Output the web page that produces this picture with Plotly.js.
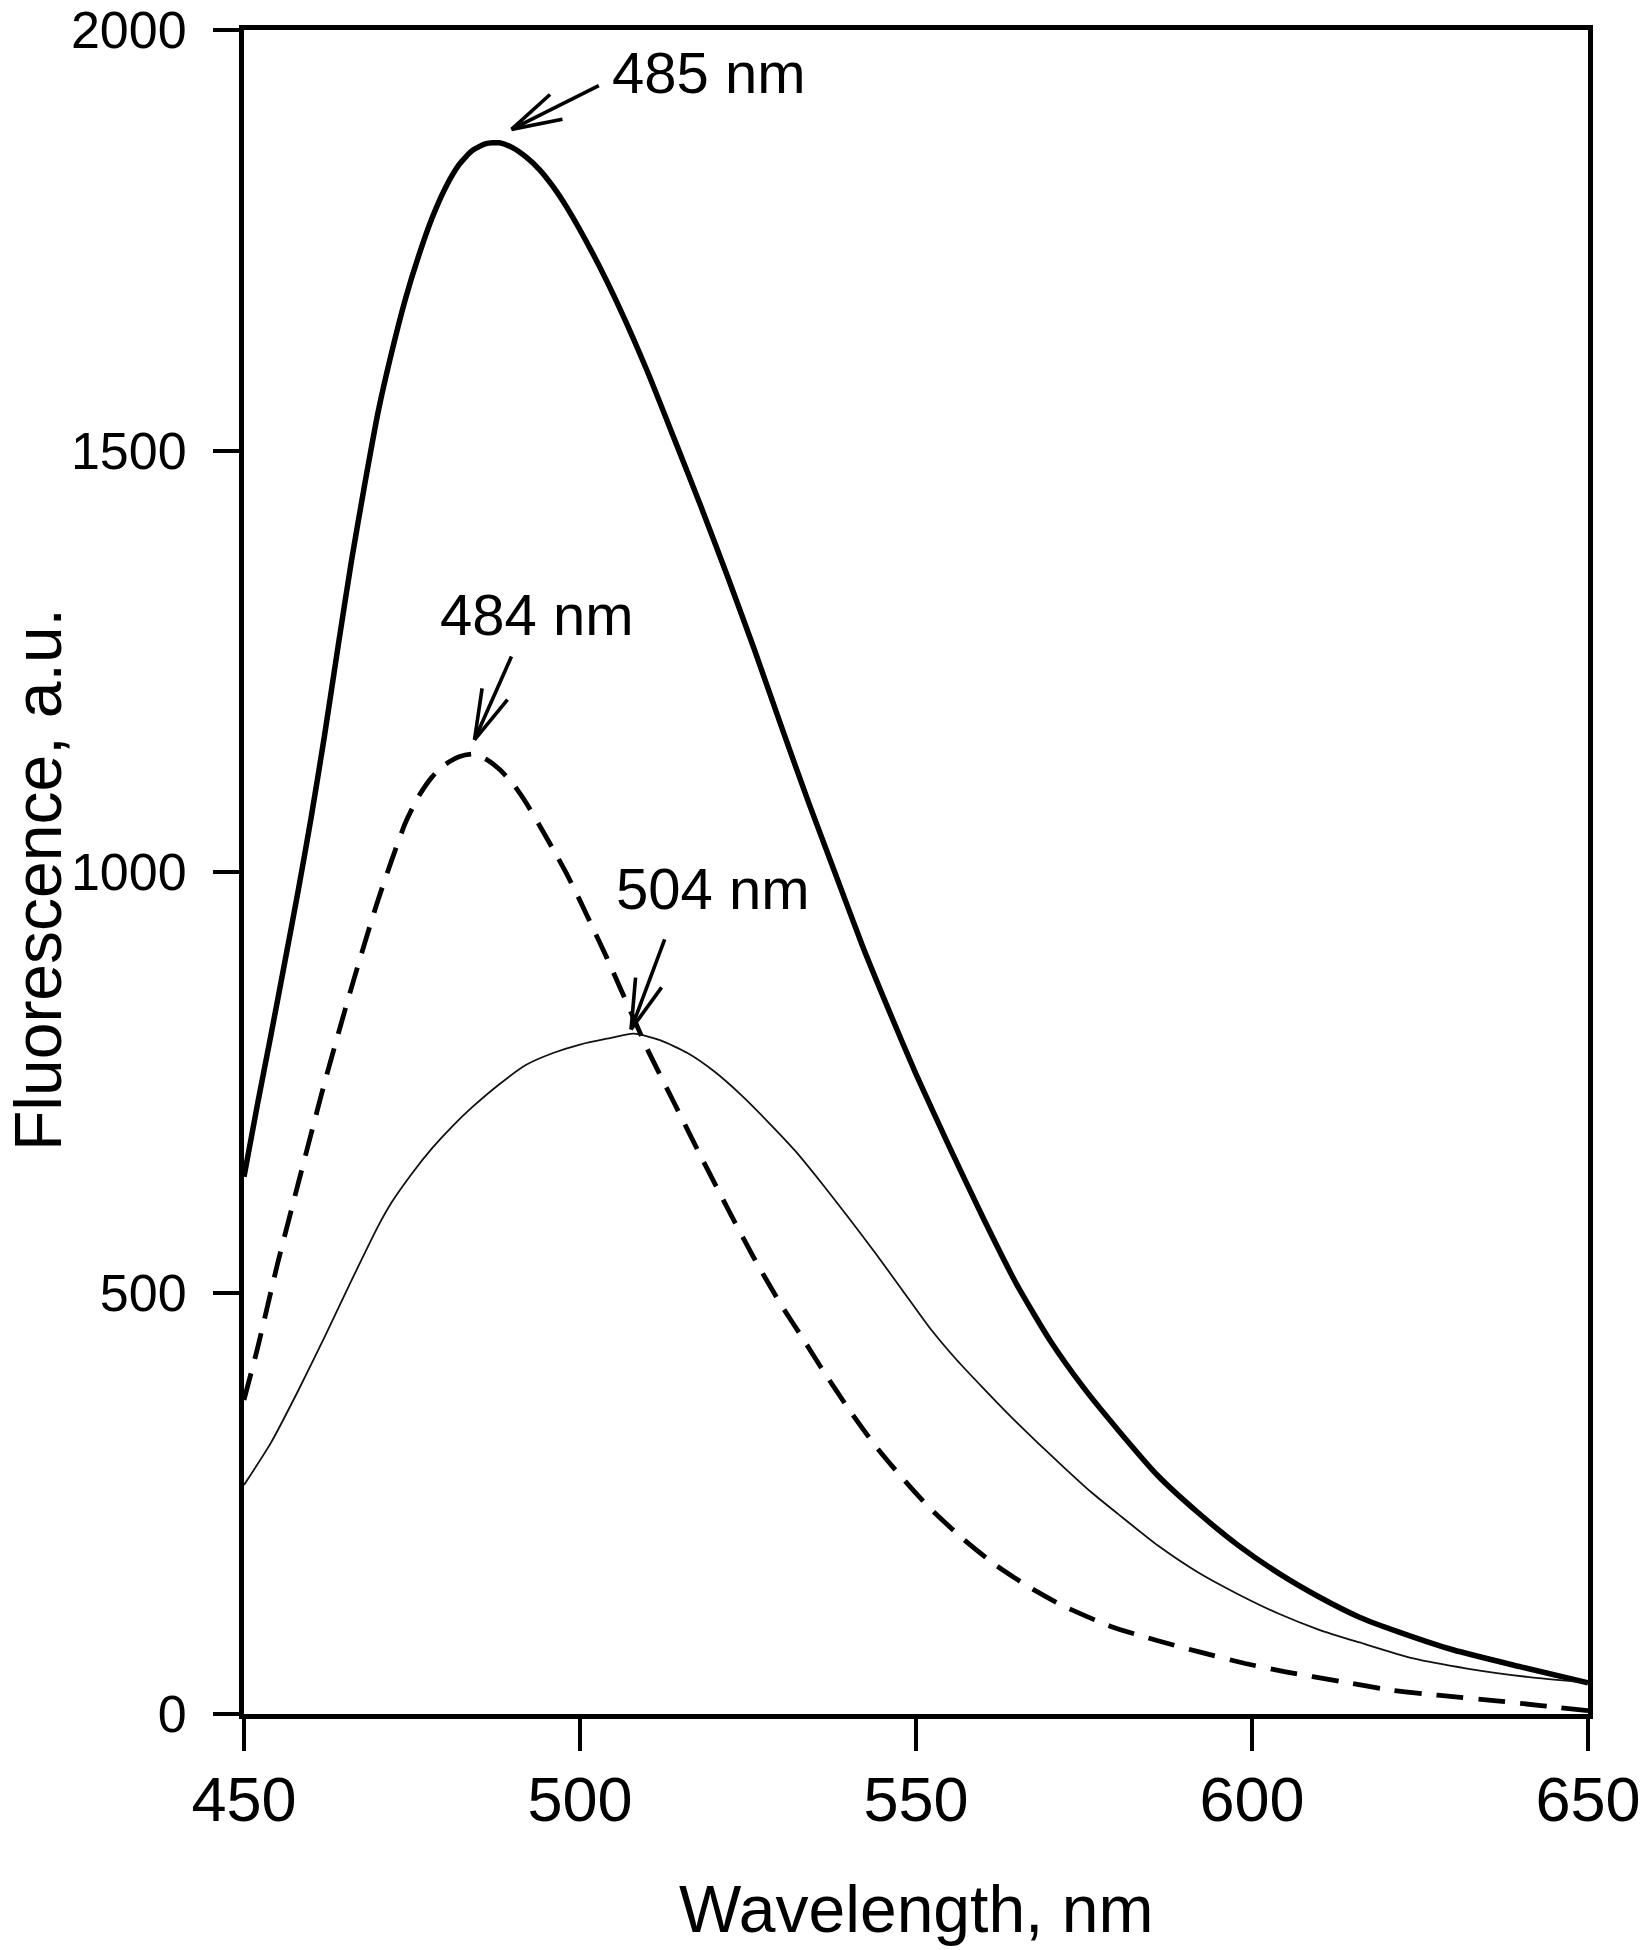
<!DOCTYPE html>
<html>
<head>
<meta charset="utf-8">
<script src="https://cdn.plot.ly/plotly-3.0.1.min.js"></script>
<style>
  html, body { margin: 0; padding: 0; background: #fff; }
  #chart { width: 1640px; height: 1950px; }
</style>
</head>
<body>
<div id="chart"></div>
<script>
// spectra (wavelength nm, fluorescence a.u.)
const wlThick = [450, 452, 454, 456, 458, 460, 462, 464, 466, 468, 470, 472, 474, 476, 478, 480, 482, 484, 486, 488, 490, 492, 494, 496, 498, 502, 506, 510, 514, 518, 522, 526, 530, 534, 538, 542, 546, 550, 555, 560, 565, 570, 575, 580, 586, 592, 598, 604, 610, 616, 622, 630, 640, 650];
const fThick = [638, 724, 806, 890, 975, 1065, 1163, 1268, 1370, 1462, 1548, 1618, 1680, 1732, 1777, 1813, 1840, 1857, 1865, 1866, 1860, 1849, 1834, 1814, 1790, 1733, 1668, 1595, 1515, 1434, 1350, 1263, 1172, 1083, 998, 913, 835, 760, 673, 589, 510, 443, 387, 338, 283, 239, 200, 167, 139, 115, 97, 76, 56, 37];

const wlDash = [450, 452, 455, 458, 462, 466, 470, 474, 476, 478, 480, 482, 484, 486, 488, 490, 492, 494, 496, 498, 500, 502, 504, 506, 508, 510, 514, 518, 522, 526, 530, 533, 536, 540, 544, 548, 552, 557, 562, 567, 572, 579, 586, 592, 599, 605, 613, 621, 628, 636, 643, 650];
const fDash = [373, 434, 535, 628, 750, 863, 968, 1058, 1090, 1113, 1128, 1137, 1140, 1134, 1122, 1105, 1082, 1055, 1027, 998, 966, 932, 898, 862, 826, 790, 726, 662, 600, 540, 485, 448, 410, 362, 318, 280, 245, 208, 176, 150, 128, 104, 87, 74, 60, 50, 39, 28, 22, 16, 10, 4];

const wlThin = [450, 454, 458, 462, 466, 470, 472, 475, 478, 481, 484, 488, 492, 496, 500, 504, 508, 512, 516, 520, 524, 528, 532, 536, 540, 544, 548, 552, 556, 560, 564, 568, 572, 576, 580, 586, 592, 598, 604, 610, 616, 624, 632, 641, 650];
const fThin = [272, 322, 383, 448, 515, 580, 608, 642, 672, 698, 721, 748, 771, 785, 795, 802, 808, 800, 785, 763, 735, 703, 669, 630, 589, 547, 503, 459, 421, 387, 354, 323, 293, 264, 238, 200, 168, 142, 119, 100, 85, 66, 54, 44, 37];

// peak labels: text position, arrow tail and arrow tip (data units)
const peakLabels = ['485 nm', '484 nm', '504 nm'];
const labelX = [519.1, 493.5, 519.7];
const labelY = [1950, 1306, 981];
const arrowTailX = [502.8, 489.8, 512.6];
const arrowTailY = [1934, 1256, 920];
const arrowTipX = [489.8, 484.3, 507.6];
const arrowTipY = [1882, 1157, 813];

const FONT = 'Liberation Sans, Arial, sans-serif';
const W = 1640, H = 1950;
const margin = { l: 244, r: 52, t: 30, b: 236 };
const xRange = [450, 650], yRange = [0, 2000];

// pixels per data unit, used only to give the arrow barbs a fixed on-screen shape
const pxX = (W - margin.l - margin.r) / (xRange[1] - xRange[0]);
const pxY = (H - margin.t - margin.b) / (yRange[1] - yRange[0]);
const BARB_LEN = 52;
const BARB_ANG = 15.5 * Math.PI / 180;

const traces = [
  {
    x: wlThick, y: fThick, type: 'scatter', mode: 'lines',
    line: { color: '#000', width: 5.5, shape: 'spline', smoothing: 0.6 }
  },
  {
    x: wlDash, y: fDash, type: 'scatter', mode: 'lines',
    line: { color: '#000', width: 4.8, dash: '27px,15px', shape: 'spline', smoothing: 0.6 }
  },
  {
    x: wlThin, y: fThin, type: 'scatter', mode: 'lines',
    line: { color: '#111', width: 1.8, shape: 'spline', smoothing: 0.6 }
  }
];

const annotations = peakLabels.map(function(txt, i) {
  return {
    x: labelX[i], y: labelY[i], xref: 'x', yref: 'y',
    text: txt, showarrow: false,
    font: { family: FONT, size: 58, color: '#000' },
    xanchor: 'center', yanchor: 'middle'
  };
});

// axis titles as annotations so they can sit nearer the page edges
annotations.push({
  x: 0.5, y: 0, xref: 'paper', yref: 'paper',
  text: 'Wavelength, nm', showarrow: false,
  font: { family: FONT, size: 66, color: '#000' },
  xanchor: 'center', yanchor: 'bottom', yshift: -margin.b + 2
});
annotations.push({
  x: 0, y: 0.5, xref: 'paper', yref: 'paper',
  text: 'Fluorescence, a.u.', showarrow: false, textangle: -90,
  font: { family: FONT, size: 66, color: '#000' },
  xanchor: 'center', yanchor: 'middle', xshift: -206, yshift: -8
});

const shapes = [];
peakLabels.forEach(function(txt, i) {
  const arrowLine = { color: '#000', width: 3.6 };
  shapes.push({
    type: 'line', xref: 'x', yref: 'y',
    x0: arrowTailX[i], y0: arrowTailY[i], x1: arrowTipX[i], y1: arrowTipY[i],
    line: arrowLine
  });
  // direction tip -> tail in screen pixels
  const dx = (arrowTailX[i] - arrowTipX[i]) * pxX;
  const dy = -(arrowTailY[i] - arrowTipY[i]) * pxY;
  const len = Math.sqrt(dx * dx + dy * dy);
  [-BARB_ANG, BARB_ANG].forEach(function(a) {
    const ux = (dx * Math.cos(a) - dy * Math.sin(a)) / len;
    const uy = (dx * Math.sin(a) + dy * Math.cos(a)) / len;
    shapes.push({
      type: 'line', xref: 'x', yref: 'y',
      x0: arrowTipX[i], y0: arrowTipY[i],
      x1: arrowTipX[i] + ux * BARB_LEN / pxX,
      y1: arrowTipY[i] - uy * BARB_LEN / pxY,
      line: arrowLine
    });
  });
});

const layout = {
  width: W, height: H,
  margin: margin,
  paper_bgcolor: '#fff', plot_bgcolor: '#fff',
  showlegend: false,
  font: { family: FONT, color: '#000' },
  xaxis: {
    range: xRange, tick0: 450, dtick: 50,
    showgrid: false, zeroline: false,
    showline: true, mirror: true, linecolor: '#000', linewidth: 5,
    ticks: 'outside', ticklen: 32, tickwidth: 4, tickcolor: '#000',
    tickfont: { family: FONT, size: 63, color: '#000' },
    ticklabelstandoff: -6, ticklabeloverflow: 'allow'
  },
  yaxis: {
    range: yRange, tick0: 0, dtick: 500,
    showgrid: false, zeroline: false,
    showline: true, mirror: true, linecolor: '#000', linewidth: 5,
    ticks: 'outside', ticklen: 26, tickwidth: 4, tickcolor: '#000',
    tickfont: { family: FONT, size: 52, color: '#000' },
    ticklabelstandoff: 16, ticklabeloverflow: 'allow'
  },
  annotations: annotations,
  shapes: shapes
};

Plotly.newPlot('chart', traces, layout, { displayModeBar: false, staticPlot: true });
</script>
</body>
</html>
